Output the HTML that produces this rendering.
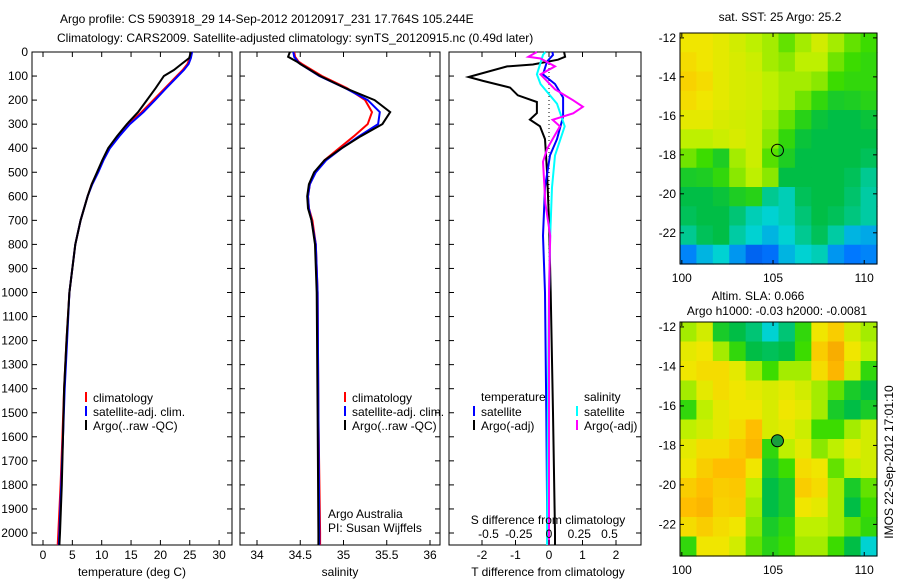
<!DOCTYPE html>
<html><head><meta charset="utf-8"><style>
body{margin:0;background:#fff}
svg{display:block;font-family:"Liberation Sans",sans-serif;font-size:12px}
</style></head><body>
<svg id="s" width="900" height="580"></svg>
<script>
// ---- data ----
const depthT=[0,25,50,75,100,150,200,250,300,350,400,450,500,550,600,700,800,1000,1200,1400,1600,1800,2000,2050];
const climT=[25.2,25,24.6,23.8,22.8,20.8,18.8,16.8,14.5,12.8,11.2,10.2,9.3,8.3,7.6,6.4,5.5,4.5,4,3.6,3.3,3,2.6,2.5];
const satT=[25.4,25.2,24.8,24,23,21,19.1,17.1,14.8,13,11.4,10.3,9.4,8.4,7.6,6.4,5.5,4.5,4.1,3.7,3.4,3.1,2.8,2.7];
const argoT=[25.2,24.9,23.6,22.3,20.6,19.2,17.7,16.2,14.3,12.6,11.1,10.1,9.2,8.3,7.6,6.4,5.5,4.5,4,3.6,3.4,3.2,2.9,2.8];
const depthS=[0,20,40,50,100,150,200,250,300,350,400,450,500,550,600,650,700,800,1000,1500,2000,2050];
const climS=[34.43,34.44,34.48,34.52,34.75,35.04,35.25,35.33,35.28,35.12,34.95,34.78,34.67,34.61,34.59,34.6,34.64,34.68,34.7,34.71,34.73,34.73];
const satS=[34.42,34.43,34.47,34.5,34.72,35.02,35.28,35.42,35.4,35.18,34.98,34.8,34.68,34.61,34.59,34.6,34.63,34.68,34.7,34.71,34.72,34.72];
const argoS=[34.38,34.36,34.46,34.5,34.73,35.02,35.36,35.54,35.45,35.2,34.98,34.78,34.66,34.6,34.58,34.59,34.63,34.67,34.69,34.7,34.71,34.71];
const dArgoTd=[0,20,32,52,60,104,120,148,180,208,254,281,309,362,496,700,1000,1500,2000,2050];
const argoTd=[0.45,0.48,0.27,-0.48,-1.25,-2.4,-1.97,-1.16,-0.93,-0.36,-0.36,-0.57,-0.27,-0.12,-0.06,0.0,0.05,0.12,0.18,0.18];
const dSatTd=[0,12,40,93,133,189,269,362,430,563,764,1000,1500,2000,2050];
const satTd=[0.1,0.12,-0.06,-0.18,0.18,0.42,0.42,0.24,0.03,-0.12,-0.18,-0.12,-0.08,-0.05,-0.05];
const dSatSd=[0,12,93,133,215,309,430,563,764,1000,1500,2000,2050];
const satSd=[-0.03,-0.05,-0.1,-0.07,0.066,0.13,0.05,0.025,0.01,0,-0.01,-0.016,-0.016];
const dArgoSd=[0,20,27,60,93,155,201,228,255,282,309,403,456,630,764,1000,1500,2000,2050];
const argoSd=[-0.1,-0.17,-0.07,0.05,-0.07,0.05,0.2,0.28,0.2,0.03,0.09,-0.016,-0.05,-0.03,0.01,0,0,0,0];
const sstGrid=[
[0.8,0.8,0.78,0.75,0.72,0.7,0.65,0.7,0.75,0.7,0.65,0.62],
[0.82,0.8,0.78,0.76,0.74,0.7,0.68,0.72,0.72,0.66,0.62,0.6],
[0.84,0.82,0.78,0.76,0.75,0.72,0.7,0.7,0.68,0.62,0.6,0.6],
[0.82,0.8,0.78,0.76,0.75,0.72,0.7,0.66,0.6,0.55,0.56,0.58],
[0.78,0.78,0.76,0.75,0.74,0.7,0.65,0.58,0.52,0.5,0.5,0.52],
[0.72,0.72,0.74,0.76,0.74,0.68,0.6,0.52,0.5,0.5,0.5,0.5],
[0.66,0.62,0.56,0.7,0.74,0.64,0.56,0.5,0.5,0.5,0.5,0.48],
[0.55,0.56,0.6,0.68,0.72,0.68,0.5,0.5,0.5,0.5,0.48,0.42],
[0.5,0.5,0.52,0.56,0.58,0.42,0.38,0.48,0.5,0.5,0.46,0.4],
[0.48,0.5,0.5,0.45,0.38,0.35,0.38,0.45,0.5,0.48,0.44,0.4],
[0.42,0.48,0.5,0.4,0.35,0.3,0.35,0.42,0.48,0.4,0.3,0.28],
[0.22,0.3,0.35,0.25,0.15,0.18,0.3,0.35,0.38,0.25,0.2,0.22]];
const slaGrid=[
[0.7,0.75,0.55,0.5,0.45,0.35,0.45,0.6,0.8,0.85,0.75,0.7],
[0.78,0.8,0.7,0.6,0.5,0.48,0.5,0.62,0.85,0.92,0.8,0.72],
[0.8,0.82,0.82,0.78,0.7,0.62,0.7,0.7,0.82,0.9,0.75,0.6],
[0.7,0.78,0.82,0.8,0.78,0.76,0.78,0.75,0.7,0.65,0.55,0.5],
[0.6,0.72,0.78,0.8,0.8,0.76,0.8,0.78,0.7,0.55,0.5,0.55],
[0.72,0.75,0.78,0.82,0.88,0.76,0.78,0.74,0.62,0.62,0.7,0.75],
[0.78,0.82,0.82,0.86,0.9,0.6,0.72,0.78,0.68,0.72,0.78,0.75],
[0.8,0.85,0.88,0.88,0.8,0.55,0.62,0.82,0.8,0.65,0.72,0.75],
[0.85,0.88,0.85,0.86,0.72,0.5,0.55,0.85,0.82,0.7,0.55,0.65],
[0.88,0.9,0.84,0.85,0.7,0.5,0.55,0.8,0.78,0.7,0.5,0.62],
[0.82,0.85,0.82,0.8,0.68,0.55,0.6,0.72,0.72,0.7,0.65,0.6],
[0.6,0.8,0.8,0.75,0.65,0.58,0.62,0.7,0.7,0.62,0.5,0.35]];
const depthTicks=[0,100,200,300,400,500,600,700,800,900,1000,1100,1200,1300,1400,1500,1600,1700,1800,1900,2000];
const tTicks=[0,5,10,15,20,25,30];
const sTicks=[34,34.5,35,35.5,36];
const tdTicks=[-2,-1,0,1,2];
const sdTicks=[-0.5,-0.25,0,0.25,0.5];
const sdTickLabels=['-0.5','-0.25','0','0.25','0.5'];
const lonTicks=[100,105,110];
const latTicks=[-12,-14,-16,-18,-20,-22];
const argoPos=[105.244,-17.764];

// ---- helpers ----
const S=document.getElementById('s');const NS='http://www.w3.org/2000/svg';
function el(tag,at,txt){const e=document.createElementNS(NS,tag);for(const k in at)e.setAttribute(k,at[k]);if(txt!==undefined)e.textContent=txt;S.appendChild(e);return e;}
const TOP=52,BOT=545;
const yD=d=>52+d*0.2405;
const panels={t:[32,232],s:[240,440],d:[449,641]};
const xT=v=>43+v*5.87, xS=v=>257+(v-34)*86.5, xTd=v=>549+v*33.5, xSd=v=>549+v*121;
function frame(p,name){const [a,b]=panels[p];const r=el('rect',{x:a,y:TOP,width:b-a,height:BOT-TOP,fill:'none',stroke:'#000'});

depthTicks.forEach(d=>{el('line',{x1:a,x2:a+5,y1:yD(d),y2:yD(d),stroke:'#000'});el('line',{x1:b-5,x2:b,y1:yD(d),y2:yD(d),stroke:'#000'});});}
function line(xs,ds,fx,col,name,w){const pts=xs.map((v,i)=>fx(v).toFixed(1)+','+yD(ds[i]).toFixed(1)).join(' ');
const p=el('polyline',{points:pts,fill:'none',stroke:col,'stroke-width':w||2});}
function xticks(p,ticks,fx,labels,ly){ticks.forEach((v,i)=>{const x=fx(v);el('line',{x1:x,x2:x,y1:BOT-5,y2:BOT,stroke:'#000'});el('line',{x1:x,x2:x,y1:TOP,y2:TOP+5,stroke:'#000'});
const t=el('text',{x:x,y:ly,'text-anchor':'middle'},labels?labels[i]:String(v));});}
function txt(x,y,s,name,anchor){const t=el('text',{x:x,y:y,'text-anchor':anchor||'start'},s);return t;}
function leg(x,y,col,s){el('line',{x1:x,x2:x,y1:y-10,y2:y,stroke:col,'stroke-width':2});txt(x+7,y,s,'legend-entry');}

// titles
txt(60,23,'Argo profile: CS 5903918_29 14-Sep-2012 20120917_231 17.764S 105.244E','title-line-1');
txt(57,42,'Climatology: CARS2009. Satellite-adjusted climatology: synTS_20120915.nc (0.49d later)','title-line-2');
depthTicks.forEach(d=>{txt(28,yD(d)+4,String(d),'depth-tick-label','end');});

// panel 1
frame('t','temperature-panel');
line(climT,depthT,xT,'#f00','climatology-temperature-line');
line(satT,depthT,xT,'#00f','satellite-temperature-line');
line(argoT,depthT,xT,'#000','argo-temperature-line');
xticks('t',tTicks,xT,null,559);
txt(132,576,'temperature (deg C)','temperature-axis-title','middle');
leg(86,402,'#f00','climatology');leg(86,416,'#00f','satellite-adj. clim.');leg(86,430,'#000','Argo(..raw -QC)');

// panel 2
frame('s','salinity-panel');
line(climS,depthS,xS,'#f00','climatology-salinity-line');
line(satS,depthS,xS,'#00f','satellite-salinity-line');
line(argoS,depthS,xS,'#000','argo-salinity-line');
xticks('s',sTicks,xS,null,559);
txt(340,576,'salinity','salinity-axis-title','middle');
leg(345,402,'#f00','climatology');leg(345,416,'#00f','satellite-adj. clim.');leg(345,430,'#000','Argo(..raw -QC)');
txt(328,518,'Argo Australia','credit-line-1');txt(328,532,'PI: Susan Wijffels','credit-line-2');

// panel 3
frame('d','difference-panel');
el('line',{x1:549,x2:549,y1:yD(0),y2:BOT,stroke:'#000','stroke-dasharray':'1,3'});
line(argoTd,dArgoTd,xTd,'#000','argo-temperature-difference-line');
line(satTd,dSatTd,xTd,'#00f','satellite-temperature-difference-line');
line(satSd,dSatSd,xSd,'#0ff','satellite-salinity-difference-line');
line(argoSd,dArgoSd,xSd,'#f0f','argo-salinity-difference-line');
xticks('d',tdTicks,xTd,null,559);
sdTicks.forEach((v,i)=>{txt(xSd(v),538,sdTickLabels[i],'s-difference-tick-label','middle');});
txt(548,524,'S difference from climatology','s-difference-axis-title','middle');
txt(548,576,'T difference from climatology','t-difference-axis-title','middle');
txt(481,401,'temperature','legend-header-temperature');txt(584,401,'salinity','legend-header-salinity');
leg(474,416,'#00f','satellite');leg(474,430,'#000','Argo(-adj)');
leg(577,416,'#0ff','satellite');leg(577,430,'#f0f','Argo(-adj)');

// maps
function cmap(v){const st=[[0,[0,40,200]],[0.2,[0,120,255]],[0.35,[0,210,210]],[0.5,[0,190,70]],[0.62,[60,220,0]],[0.72,[190,240,0]],[0.8,[240,230,0]],[0.88,[255,190,0]],[1,[235,140,0]]];
for(let i=1;i<st.length;i++){if(v<=st[i][0]){const [a,ca]=st[i-1],[b,cb]=st[i];const t=(v-a)/(b-a);return 'rgb('+ca.map((c,k)=>Math.round(c+(cb[k]-c)*t)).join(',')+')';}}return 'rgb(235,140,0)';}
function map(grid,y0,y1,name,fillDot){const x0=680,x1=877;const lon0=99.9,lon1=110.7,lat0=-11.75,lat1=-23.6;
const fx=v=>x0+(v-lon0)/(lon1-lon0)*(x1-x0), fy=v=>y0+(v-lat0)/(lat1-lat0)*(y1-y0);
const nr=grid.length,nc=grid[0].length,cw=(x1-x0)/nc,ch=(y1-y0)/nr;
grid.forEach((row,r)=>row.forEach((v,c)=>{const q=el('rect',{x:x0+c*cw,y:y0+r*ch,width:cw+0.6,height:ch+0.6,fill:cmap(v)});}));
const f=el('rect',{x:x0,y:y0,width:x1-x0,height:y1-y0,fill:'none',stroke:'#000'});
latTicks.forEach(l=>{const y=fy(l);el('line',{x1:x0,x2:x0+4,y1:y,y2:y,stroke:'#000'});el('line',{x1:x1-4,x2:x1,y1:y,y2:y,stroke:'#000'});txt(x0-4,y+4,String(l),'lat-tick-label','end');});
lonTicks.forEach(l=>{const x=fx(l);el('line',{x1:x,x2:x,y1:y0,y2:y0+4,stroke:'#000'});el('line',{x1:x,x2:x,y1:y1-4,y2:y1,stroke:'#000'});txt(x,y1+18,String(l),'lon-tick-label','middle');});
const c=el('circle',{cx:fx(argoPos[0]),cy:fy(argoPos[1]),r:6,fill:fillDot?'#1a9e3c':'none',stroke:'#000'});}
txt(780,21,'sat. SST: 25 Argo: 25.2','sst-map-title','middle');
map(sstGrid,33,264,'sst-map',false);
txt(758,300,'Altim. SLA: 0.066','sla-map-title-1','middle');
txt(777,315,'Argo h1000: -0.03 h2000: -0.0081','sla-map-title-2','middle');
map(slaGrid,322,556,'sla-map',true);
const v=txt(0,0,'IMOS 22-Sep-2012 17:01:10','timestamp-label','middle');v.setAttribute('transform','translate(893,462) rotate(-90)');
</script>
</body></html>
